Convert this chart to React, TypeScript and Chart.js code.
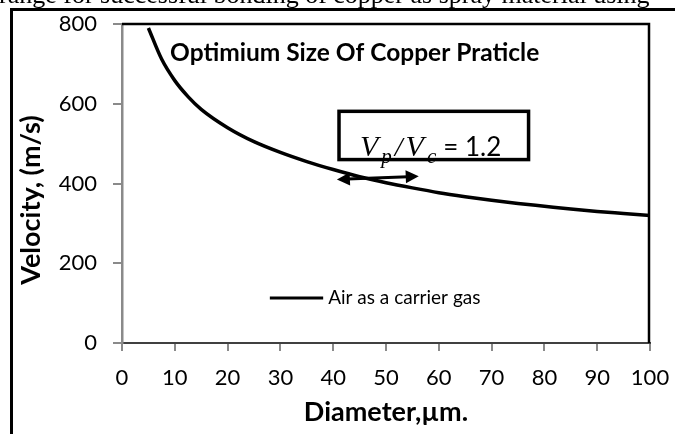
import React, { useEffect, useRef } from "react";
import { Chart, registerables } from "chart.js";

Chart.register(...registerables);

// ---- data ----
const diameters = [5, 7.5, 10, 12.5, 15, 20, 25, 30, 35, 40, 45, 50, 55, 60, 65, 70, 75, 80, 85, 90, 95, 100];
const velocities = [790, 712, 658, 618, 586, 540, 505, 478, 455, 435, 417, 402, 389, 377, 367, 358, 350, 343, 336, 330, 325, 320];
const xTickValues = [0, 10, 20, 30, 40, 50, 60, 70, 80, 90, 100];
const yTickValues = [0, 200, 400, 600, 800];
const seriesLabel = "Air as a carrier gas";
const plotTitle = "Optimium Size Of Copper Praticle";
const xTitle = "Diameter,\u00b5m.";
const yTitle = "Velocity, (m/s)";
const ratioValue = "= 1.2";
const pageText = "range for successful bonding of copper as spray material using";

// annotation anchors in data units
const titleAnchor = { x: 9.1, y: 728 };
const legendAnchor = { x0: 28, x1: 38.1, y: 113 };
const boxAnchor = { x0: 41.1, x1: 77.0, y0: 460, y1: 581 };
const arrowAnchor = { x0: 40.7, y0: 410, x1: 56.2, y1: 418 };

const FONT = "Lato";

const decorPlugin = {
  id: "decor",
  afterDraw(chart: any) {
    const { ctx, chartArea, scales } = chart;
    const xs = scales.x;
    const ys = scales.y;
    const px = (v: number) => xs.getPixelForValue(v);
    const py = (v: number) => ys.getPixelForValue(v);
    ctx.save();

    // outer frame
    ctx.strokeStyle = "#000";
    ctx.lineWidth = 3;
    ctx.beginPath();
    ctx.moveTo(11.5, chart.height);
    ctx.lineTo(11.5, 9.5);
    ctx.lineTo(chart.width, 9.5);
    ctx.stroke();

    // plot area top/right border
    ctx.lineWidth = 2.5;
    ctx.beginPath();
    ctx.moveTo(chartArea.left, chartArea.top);
    ctx.lineTo(chartArea.right - 1, chartArea.top);
    ctx.lineTo(chartArea.right - 1, chartArea.bottom);
    ctx.stroke();

    // plot title
    ctx.fillStyle = "#000";
    ctx.font = `bold 24.5px ${FONT}`;
    ctx.textAlign = "left";
    ctx.textBaseline = "middle";
    ctx.fillText(plotTitle, px(titleAnchor.x), py(titleAnchor.y));

    // legend
    ctx.lineWidth = 3;
    ctx.beginPath();
    ctx.moveTo(px(legendAnchor.x0), py(legendAnchor.y));
    ctx.lineTo(px(legendAnchor.x1), py(legendAnchor.y));
    ctx.stroke();
    ctx.font = `19px ${FONT}`;
    ctx.fillText(seriesLabel, px(legendAnchor.x1) + 5, py(legendAnchor.y));

    // ratio box text
    const bx0 = px(boxAnchor.x0);
    const bx1 = px(boxAnchor.x1);
    const by0 = py(boxAnchor.y1);
    const by1 = py(boxAnchor.y0);
    ctx.fillStyle = "#fff";
    ctx.fillRect(bx0, by0, bx1 - bx0, by1 - by0);
    ctx.fillStyle = "#000";
    ctx.textBaseline = "alphabetic";
    let tx = bx0 + 21;
    const base = by1 - 4;
    const pieces: [string, string, number, number][] = [
      ["V", "italic 30px 'Liberation Serif'", 0, 3],
      ["p", "italic 21px 'Liberation Serif'", 7, 3],
      ["/", "italic 28px 'Liberation Serif'", 0, 3],
      ["V", "italic 30px 'Liberation Serif'", 0, 3],
      ["c", "italic 21px 'Liberation Serif'", 7, 2],
    ];
    for (const [t, f, dy, gap] of pieces) {
      ctx.font = f;
      ctx.fillText(t, tx, base + dy);
      tx += ctx.measureText(t).width + gap;
    }
    ctx.font = `26px ${FONT}`;
    ctx.fillText(ratioValue, tx + 5, base);

    ctx.lineWidth = 3.5;
    ctx.strokeRect(bx0, by0, bx1 - bx0, by1 - by0);

    // double arrow
    const ax0 = px(arrowAnchor.x0), ay0 = py(arrowAnchor.y0);
    const ax1 = px(arrowAnchor.x1), ay1 = py(arrowAnchor.y1);
    const ang = Math.atan2(ay1 - ay0, ax1 - ax0);
    const head = 13, half = 6.5;
    const hx = Math.cos(ang), hy = Math.sin(ang);
    ctx.lineWidth = 3;
    ctx.beginPath();
    ctx.moveTo(ax0 + hx * head * 0.8, ay0 + hy * head * 0.8);
    ctx.lineTo(ax1 - hx * head * 0.8, ay1 - hy * head * 0.8);
    ctx.stroke();
    const drawHead = (tipX: number, tipY: number, dir: number) => {
      const bxh = tipX - dir * hx * head;
      const byh = tipY - dir * hy * head;
      ctx.beginPath();
      ctx.moveTo(tipX, tipY);
      ctx.lineTo(bxh - hy * half, byh + hx * half);
      ctx.lineTo(bxh + hy * half, byh - hx * half);
      ctx.closePath();
      ctx.fill();
    };
    drawHead(ax1, ay1, 1);
    drawHead(ax0, ay0, -1);

    // y axis title
    ctx.save();
    ctx.translate(31, 200);
    ctx.rotate(-Math.PI / 2);
    ctx.font = `bold 27px ${FONT}`;
    ctx.textAlign = "center";
    ctx.textBaseline = "middle";
    ctx.fillText(yTitle, 0, 0);
    ctx.restore();

    ctx.restore();
  },
};

export default function App() {
  const canvasRef = useRef<HTMLCanvasElement | null>(null);

  useEffect(() => {
    if (!canvasRef.current) return;
    const points = diameters.map((d, i) => ({ x: d, y: velocities[i] }));
    const chart = new Chart(canvasRef.current, {
      type: "line",
      data: {
        datasets: [
          {
            label: seriesLabel,
            data: points,
            borderColor: "#000",
            borderWidth: 3.5,
            pointRadius: 0,
            cubicInterpolationMode: "monotone",
            fill: false,
          },
        ],
      },
      options: {
        animation: false,
        responsive: false,
        devicePixelRatio: 1,
        layout: { padding: { left: 0, top: 24, right: 25, bottom: 0 } },
        plugins: {
          legend: { display: false },
          tooltip: { enabled: false },
          title: { display: false },
        },
        scales: {
          x: {
            type: "linear",
            min: 0,
            max: 100,
            afterBuildTicks: (s: any) => {
              s.ticks = xTickValues.map((v) => ({ value: v }));
            },
            afterFit: (s: any) => {
              s.height = 91;
              s.paddingLeft = 0;
              s.paddingRight = 0;
            },
            ticks: {
              color: "#000",
              font: { family: FONT, size: 22 },
              padding: 14,
              maxRotation: 0,
            },
            grid: {
              drawOnChartArea: false,
              drawTicks: true,
              tickLength: 8,
              color: "#8a8a8a",
              lineWidth: 2,
            },
            border: { color: "#404040", width: 2 },
            title: {
              display: true,
              text: xTitle,
              color: "#000",
              font: { family: FONT, size: 27, weight: "bold" },
              padding: { top: 0, bottom: 6 },
            },
          },
          y: {
            type: "linear",
            min: 0,
            max: 800,
            afterBuildTicks: (s: any) => {
              s.ticks = yTickValues.map((v) => ({ value: v }));
            },
            afterFit: (s: any) => {
              s.width = 122;
              s.paddingTop = 0;
              s.paddingBottom = 0;
            },
            ticks: {
              color: "#000",
              font: { family: FONT, size: 22 },
              padding: 16,
            },
            grid: {
              drawOnChartArea: false,
              drawTicks: true,
              tickLength: 9,
              color: "#8a8a8a",
              lineWidth: 2,
            },
            border: { color: "#8a8a8a", width: 2.5 },
            title: { display: false },
          },
        },
      },
      plugins: [decorPlugin],
    } as any);
    return () => chart.destroy();
  }, []);

  return (
    <div
      style={{
        position: "absolute",
        left: 0,
        top: 0,
        width: 675,
        height: 434,
        overflow: "hidden",
        background: "#fff",
      }}
    >
      <canvas
        ref={canvasRef}
        width={675}
        height={434}
        style={{ position: "absolute", left: 0, top: 0, width: 675, height: 434 }}
      />
      <div
        style={{
          position: "absolute",
          left: -1,
          top: -17,
          fontFamily: "'Liberation Serif', serif",
          fontSize: 26,
          lineHeight: "24px",
          whiteSpace: "nowrap",
          color: "#000",
        }}
      >
        {pageText}
      </div>
    </div>
  );
}
